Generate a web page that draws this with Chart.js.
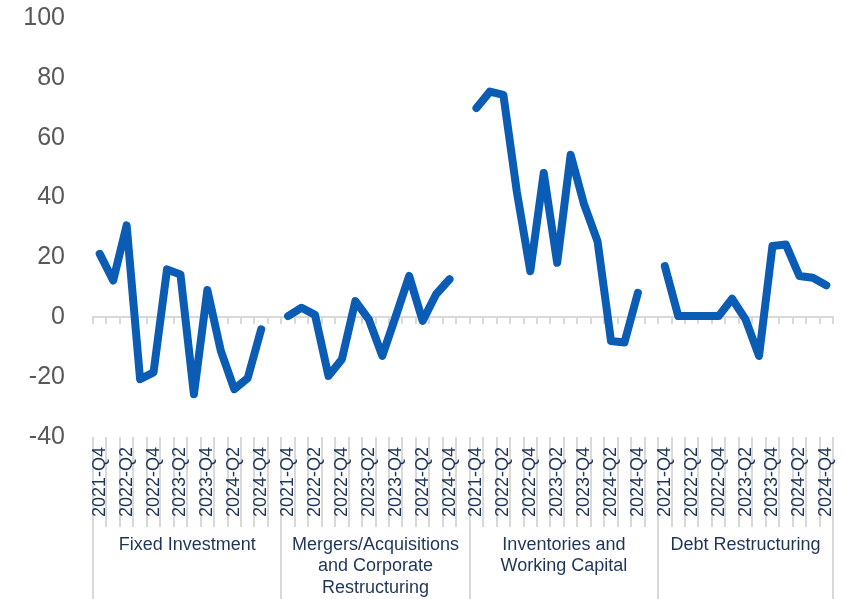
<!DOCTYPE html>
<html>
<head>
<meta charset="utf-8">
<script src="https://cdn.jsdelivr.net/npm/chart.js@4.4.1/dist/chart.umd.min.js"></script>
<style>
    html, body { margin: 0; padding: 0; background: #ffffff; }
    #chart-wrap { width: 846px; height: 599px; position: relative; }
</style>
</head>
<body>
<div id="chart-wrap"><canvas id="loan-purpose-chart"></canvas></div>
<script>
const quarters = ['2021-Q4', '2022-Q1', '2022-Q2', '2022-Q3', '2022-Q4', '2023-Q1', '2023-Q2',
    '2023-Q3', '2023-Q4', '2024-Q1', '2024-Q2', '2024-Q3', '2024-Q4'];
const groupNames = [
    'Fixed Investment',
    ['Mergers/Acquisitions', 'and Corporate', 'Restructuring'],
    ['Inventories and', 'Working Capital'],
    'Debt Restructuring'
];
const fixedInvestment = [21.2, 12.3, 30.7, -20.7, -18.4, 16, 14.3, -25.7, 9.1, -11.2, -24, -20.3, -4];
const mergersAcquisitions = [0.4, 3.2, 0.8, -19.6, -14, 5.4, -0.7, -12.9, 0.3, 13.8, -1.2, 7.7, 12.7];
const inventoriesWorkingCapital = [69.9, 75.4, 74.3, 42, 15.4, 48.2, 18.2, 54.3, 37.7, 25.4, -7.9, -8.4, 8.2];
const debtRestructuring = [17.1, 0.4, 0.4, 0.4, 0.4, 6.2, -0.7, -12.9, 23.8, 24.3, 13.8, 13.2, 10.7];
const yTicks = [-40, -20, 0, 20, 40, 60, 80, 100];

const axisGrey = '#d9d9d9';
const labelNavy = '#1f3558';
const fontFamily = "'Liberation Sans', Arial, sans-serif";

// flatten the groups into one category axis, with an empty slot after each group but the last
const groupSeries = [fixedInvestment, mergersAcquisitions, inventoriesWorkingCapital, debtRestructuring];
const labels = [];
const values = [];
const showLabel = [];
const groupStart = [];
const groupSize = [];
groupSeries.forEach((series, g) => {
    groupStart.push(labels.length);
    quarters.forEach((q, i) => {
        labels.push(q);
        values.push(series[i]);
        showLabel.push(i % 2 === 0);
    });
    if (g < groupSeries.length - 1) {
        labels.push('');
        values.push(null);
        showLabel.push(false);
    }
    groupSize.push(labels.length - groupStart[g]);
});
const boundaries = groupStart.concat([labels.length]);
const centers = groupStart.map((s, g) => s + groupSize[g] / 2);

const ctx = document.getElementById('loan-purpose-chart').getContext('2d');
new Chart(ctx, {
    type: 'line',
    data: {
        labels: labels,
        datasets: [{
            data: values,
            borderColor: '#0a5cb4',
            borderWidth: 8,
            borderJoinStyle: 'round',
            borderCapStyle: 'round',
            pointRadius: 0,
            tension: 0,
            spanGaps: false
        }]
    },
    options: {
        responsive: true,
        maintainAspectRatio: false,
        animation: false,
        layout: { padding: { left: 0, right: 13, top: 18, bottom: 0 } },
        plugins: {
            legend: { display: false },
            tooltip: { enabled: false }
        },
        scales: {
            y: {
                min: -40,
                max: 100,
                afterBuildTicks: (scale) => { scale.ticks = yTicks.map(v => ({ value: v })); },
                afterFit: (scale) => { scale.width = 93; },
                // grid hidden; its tick length only sets the gap between labels and plot
                grid: { display: false, drawTicks: true, tickLength: 28 },
                border: { display: false },
                ticks: {
                    color: '#595959',
                    padding: 0,
                    font: { family: fontFamily, size: 25 }
                }
            },
            x: {
                type: 'category',
                position: 'bottom',
                offset: true,
                afterFit: (scale) => { scale.height = 90; },
                border: { display: false },
                grid: {
                    offset: true,
                    drawOnChartArea: false,
                    drawTicks: true,
                    tickLength: 90,
                    color: axisGrey,
                    lineWidth: 2
                },
                ticks: {
                    autoSkip: false,
                    minRotation: 90,
                    maxRotation: 90,
                    padding: -80,
                    color: labelNavy,
                    font: { family: fontFamily, size: 18 },
                    callback: function (value, index) {
                        return showLabel[index] ? this.getLabelForValue(value) : '';
                    }
                }
            },
            groups: {
                type: 'linear',
                axis: 'x',
                position: 'bottom',
                min: 0,
                max: labels.length,
                bounds: 'data',
                afterBuildTicks: (scale) => {
                    scale.ticks = boundaries.concat(centers).sort((a, b) => a - b).map(v => ({ value: v }));
                },
                afterFit: (scale) => { scale.height = 72; },
                border: { display: false },
                grid: {
                    drawOnChartArea: false,
                    drawTicks: true,
                    tickLength: 72,
                    lineWidth: 2,
                    color: (c) => (c.tick && boundaries.includes(c.tick.value)) ? axisGrey : 'rgba(0,0,0,0)'
                },
                ticks: {
                    autoSkip: false,
                    minRotation: 0,
                    maxRotation: 0,
                    padding: -65,
                    color: labelNavy,
                    font: { family: fontFamily, size: 18 },
                    callback: (value) => {
                        const g = centers.indexOf(value);
                        return g >= 0 ? groupNames[g] : '';
                    }
                }
            },
            zeroLine: {
                type: 'category',
                axis: 'x',
                position: { y: 0 },
                offset: true,
                border: { display: true, color: axisGrey, width: 2 },
                grid: {
                    offset: true,
                    drawOnChartArea: false,
                    drawTicks: true,
                    tickLength: 6,
                    color: axisGrey,
                    lineWidth: 2
                },
                ticks: { display: false }
            }
        }
    }
});
</script>
</body>
</html>
